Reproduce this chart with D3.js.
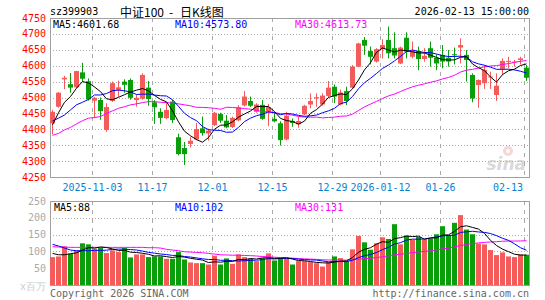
<!DOCTYPE html>
<html>
<head>
<meta charset="utf-8">
<script src="https://cdn.jsdelivr.net/npm/d3@7"></script>
<style>
  body { margin: 0; background: #fff; }
  text { font-family: "DejaVu Sans Mono", monospace; font-size: 10px; }
</style>
</head>
<body>
<svg id="chart" width="545" height="300"></svg>
<script>
var dates = ["10-23","10-24","10-27","10-28","10-29","10-30","10-31",
  "11-03","11-04","11-05","11-06","11-07","11-10","11-11","11-12","11-13","11-14",
  "11-17","11-18","11-19","11-20","11-21","11-24","11-25","11-26","11-27","11-28",
  "12-01","12-02","12-03","12-04","12-05","12-08","12-09","12-10","12-11","12-12",
  "12-15","12-16","12-17","12-18","12-19","12-22","12-23","12-24","12-25","12-26",
  "12-29","12-30","12-31","01-05","01-06","01-07","01-08","01-09",
  "01-12","01-13","01-14","01-15","01-16","01-19","01-20","01-21","01-22","01-23",
  "01-26","01-27","01-28","01-29","01-30","02-02","02-03","02-04","02-05","02-06",
  "02-09","02-10","02-11","02-12","02-13"]

var open  = [4419,4471,4557,4542,4532,4579,4551,4490,4492,4398,4489,4524,4550,4555,4492,4496,4531,4485,4455,4435,
             4487,4375,4341,4354,4368,4403,4387,4413,4448,4427,4407,4428,4475,4489,4455,4477,4455,4433,4419,4368,
             4426,4416,4447,4478,4497,4478,4505,4534,4478,4520,4531,4597,4681,4646,4613,4652,4681,4655,4607,4688,
             4628,4646,4621,4655,4625,4634,4625,4636,4657,4634,4571,4539,4545,4563,4508,4590,4612,4612,4618,4594]
var high  = [4461,4517,4568,4577,4584,4609,4560,4502,4500,4482,4550,4553,4557,4560,4510,4576,4552,4492,4466,4482,
             4493,4386,4360,4376,4420,4440,4402,4455,4452,4445,4440,4476,4520,4503,4482,4492,4480,4455,4425,4455,
             4434,4440,4477,4513,4513,4513,4552,4541,4525,4534,4602,4672,4690,4660,4655,4683,4723,4705,4660,4705,
             4676,4660,4655,4676,4636,4665,4649,4657,4686,4649,4576,4557,4602,4581,4576,4623,4628,4618,4628,4602]
var low   = [4384,4468,4526,4515,4530,4550,4490,4435,4430,4392,4486,4502,4515,4493,4471,4493,4474,4417,4417,4432,
             4420,4318,4288,4343,4366,4380,4365,4410,4420,4403,4404,4425,4472,4470,4452,4430,4410,4422,4349,4365,
             4408,4405,4444,4466,4471,4475,4500,4482,4475,4476,4528,4595,4634,4604,4610,4623,4623,4623,4605,4623,
             4623,4586,4613,4597,4586,4592,4597,4604,4607,4550,4485,4468,4527,4527,4489,4571,4592,4597,4604,4552]
var close = [4455,4515,4562,4531,4583,4559,4494,4499,4457,4470,4545,4532,4540,4499,4499,4571,4495,4469,4436,4461,
             4429,4322,4322,4364,4401,4388,4396,4452,4427,4406,4436,4469,4503,4474,4478,4433,4470,4425,4366,4443,
             4420,4426,4474,4489,4501,4506,4531,4503,4516,4489,4597,4670,4663,4628,4652,4665,4639,4632,4657,4644,
             4646,4621,4631,4625,4607,4613,4613,4634,4665,4618,4497,4555,4587,4566,4537,4615,4615,4613,4623,4562]
var volume = [83,85,115,93,103,124,121,108,110,95,103,98,110,82,91,91,83,85,85,78,
              78,98,76,67,65,65,61,87,61,79,63,91,83,78,71,80,94,73,80,78,
              61,71,71,68,65,55,68,85,80,71,106,146,127,105,124,142,137,181,121,147,
              135,143,135,138,151,175,148,185,208,165,151,123,121,104,89,97,85,83,91,90]

// moving-average values before enough days are on screen
var ma5Head  = [4414,4452,4485,4503]
var ma10Head = [4426,4435,4445,4461,4477,4485,4494,4508,4508]
var ma30Head = [4381,4387,4398,4406,4417,4427,4435,4437,4440,4450,4458,4466,4471,4477,4480,4484,4487,4487,4485,4484,
                4482,4480,4477,4474,4469,4469,4468,4466,4463]
var volMa5Head  = [94,90,90,93]
var volMa10Head = [121,116,110,104,102,102,102,103,103]
var volMa30Head = [114,113,113,112,112,112,112,112,112,112,112,112,112,112,112,112,111,111,110,106,
                   104,102,99,98,97,96,94,92,90]

var priceTicks = [4250,4300,4350,4400,4450,4500,4550,4600,4650,4700,4750]
var volTicks = [50,100,150,200,250]
var tickDates  = ["11-03","11-17","12-01","12-15","12-29","01-12","01-26","02-13"]
var tickLabels = ["2025-11-03","11-17","12-01","12-15","12-29","2026-01-12","01-26","02-13"]

var upColor = "#f45b5b", downColor = "#0a9e0a"
var gridColor = "#aaaaaa", frameColor = "#a0a0a0"

var svg = d3.select("#chart")
var left = 50, right = 530

var x = d3.scaleBand().domain(dates).range([left, right])
var y = d3.scaleLinear().domain([4250, 4750]).range([177, 18])
var yv = d3.scaleLinear().domain([0, 250]).range([285, 201])

function movingAvg(values, n, head) {
  return values.map(function(v, i) {
    if (i < n - 1) return head[i]
    return d3.mean(values.slice(i - n + 1, i + 1))
  })
}

function crisp(v) { return Math.round(v) + 0.5 }

// ---------- titles ----------
svg.append("text").attr("x", 50).attr("y", 11).attr("dominant-baseline", "central")
   .attr("fill", "#000").text("sz399903")
var cjk = "'Noto Sans CJK SC', sans-serif"
svg.append("text").attr("x", 120).attr("y", 11).attr("dominant-baseline", "central")
   .attr("fill", "#000").style("font-family", cjk).style("font-size", "12px").text("中证100")
svg.append("text").attr("x", 169).attr("y", 11).attr("dominant-baseline", "central")
   .attr("fill", "#000").style("font-family", cjk).style("font-size", "12px").text("-")
svg.append("text").attr("x", 180).attr("y", 11).attr("dominant-baseline", "central")
   .attr("fill", "#000").style("font-family", cjk).style("font-size", "12px").text("日K线图")
svg.append("text").attr("x", 529).attr("y", 11).attr("dominant-baseline", "central")
   .attr("text-anchor", "end").attr("fill", "#000").text("2026-02-13 15:00:00")

// ---------- grids ----------
function drawPanel(top, bottom, hTicks, scale) {
  var g = svg.append("g")
  g.selectAll(".hgrid").data(hTicks).enter().append("line")
    .attr("x1", left).attr("x2", right - 1)
    .attr("y1", function(d) { return crisp(scale(d)) })
    .attr("y2", function(d) { return crisp(scale(d)) })
    .attr("stroke", gridColor).attr("stroke-dasharray", "1,2")
  g.selectAll(".vgrid").data(tickDates).enter().append("line")
    .attr("x1", function(d) { return x(d) + 0.5 })
    .attr("x2", function(d) { return x(d) + 0.5 })
    .attr("y1", top).attr("y2", bottom)
    .attr("stroke", gridColor).attr("stroke-dasharray", "4,5")
  g.append("rect").attr("x", left + 0.5).attr("y", top + 0.5)
    .attr("width", right - left - 1).attr("height", bottom - top)
    .attr("fill", "none").attr("stroke", frameColor)
}
drawPanel(18, 177, priceTicks.slice(1, -1), y)
drawPanel(201, 285, [100, 150, 200], yv)

// price axis labels
svg.selectAll(".plabel").data(priceTicks).enter().append("text")
  .attr("x", 46).attr("y", function(d) { return y(d) })
  .attr("text-anchor", "end").attr("dominant-baseline", "central")
  .attr("fill", "#ff0000").text(function(d) { return d })

// volume axis labels
svg.selectAll(".vlabel").data(volTicks).enter().append("text")
  .attr("x", 46).attr("y", function(d) { return yv(d) })
  .attr("text-anchor", "end").attr("dominant-baseline", "central")
  .attr("fill", "#aaaaaa").text(function(d) { return d })
svg.append("text").attr("x", 46).attr("y", 286).attr("text-anchor", "end")
   .attr("dominant-baseline", "central").attr("fill", "#cccccc").text("x百万")

// date labels
svg.selectAll(".dlabel").data(tickDates).enter().append("text")
  .attr("x", function(d, i) {
    var gx = x(d) + 0.5
    var w = tickLabels[i].length * 6
    return Math.min(gx, 523 - w / 2)
  })
  .attr("y", 187).attr("text-anchor", "middle").attr("dominant-baseline", "central")
  .attr("fill", "#0a7fcf").text(function(d, i) { return tickLabels[i] })

// watermark
var wm = svg.append("g").attr("opacity", 0.55)
wm.append("circle").attr("cx", 508).attr("cy", 151).attr("r", 5).attr("fill", "#f2b5b5")
wm.append("circle").attr("cx", 508).attr("cy", 151).attr("r", 2).attr("fill", "#fff")
wm.append("text").attr("x", 526).attr("y", 170).attr("text-anchor", "end")
  .style("font-family", "'DejaVu Sans', sans-serif").style("font-size", "17px")
  .style("font-style", "italic").style("font-weight", "bold").attr("fill", "#bbbbbb").text("sina")

// ---------- candles ----------
var rows = dates.map(function(d, i) {
  return { d: d, o: open[i], h: high[i], l: low[i], c: close[i], v: volume[i], up: close[i] >= open[i] }
})

var candles = svg.append("g")
candles.selectAll(".wick").data(rows).enter().append("line")
  .attr("x1", function(r) { return x(r.d) + 2.5 })
  .attr("x2", function(r) { return x(r.d) + 2.5 })
  .attr("y1", function(r) { return y(r.h) })
  .attr("y2", function(r) { return y(r.l) })
  .attr("stroke", function(r) { return r.up ? upColor : downColor })
candles.selectAll(".body").data(rows).enter().append("rect")
  .attr("x", function(r) { return x(r.d) })
  .attr("width", 5)
  .attr("y", function(r) { return y(Math.max(r.o, r.c)) })
  .attr("height", function(r) { return Math.max(1, Math.abs(y(r.o) - y(r.c))) })
  .attr("fill", function(r) { return r.up ? upColor : downColor })

// volume bars
svg.append("g").selectAll("rect").data(rows).enter().append("rect")
  .attr("x", function(r) { return x(r.d) })
  .attr("width", 5)
  .attr("y", function(r) { return yv(r.v) })
  .attr("height", function(r) { return yv(0) - yv(r.v) })
  .attr("fill", function(r) { return r.up ? upColor : downColor })

// ---------- moving averages ----------
function drawLine(values, scale, color) {
  var line = d3.line()
    .x(function(v, i) { return x(dates[i]) + 2.5 })
    .y(function(v) { return scale(v) })
  svg.append("path").datum(values).attr("d", line)
    .attr("fill", "none").attr("stroke", color).attr("stroke-width", 1)
}
drawLine(movingAvg(close, 30, ma30Head), y, "#ff00ff")
drawLine(movingAvg(close, 10, ma10Head), y, "#0000ff")
drawLine(movingAvg(close, 5, ma5Head), y, "#000000")
drawLine(movingAvg(volume, 30, volMa30Head), yv, "#ff00ff")
drawLine(movingAvg(volume, 10, volMa10Head), yv, "#0000ff")
drawLine(movingAvg(volume, 5, volMa5Head), yv, "#000000")

// legends
function legend(yPos, items) {
  items.forEach(function(it) {
    svg.append("text").attr("x", it[0]).attr("y", yPos).attr("dominant-baseline", "central")
      .attr("fill", it[2]).text(it[1])
  })
}
legend(24, [[53, "MA5:4601.68", "#000"], [175, "MA10:4573.80", "#0000ff"], [295, "MA30:4613.73", "#ff00ff"]])
legend(207, [[54, "MA5:88", "#000"], [175, "MA10:102", "#0000ff"], [295, "MA30:131", "#ff00ff"]])

// footer
svg.append("text").attr("x", 50).attr("y", 293).attr("dominant-baseline", "central")
   .attr("fill", "#666").text("Copyright 2026 SINA.COM")
svg.append("text").attr("x", 529).attr("y", 293).attr("text-anchor", "end")
   .attr("dominant-baseline", "central").attr("fill", "#666").text("http://finance.sina.com.cn")
</script>
</body>
</html>
